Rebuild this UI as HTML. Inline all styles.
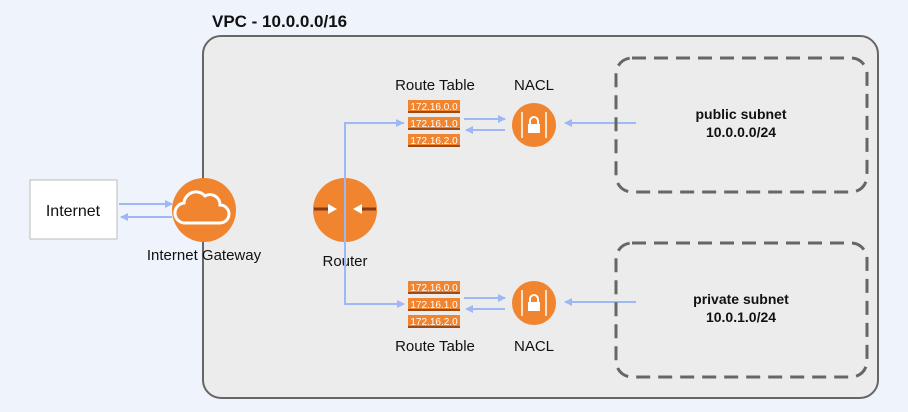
<!DOCTYPE html>
<html><head><style>
body{margin:0;width:908px;height:407px;background:#eef3fc;font-family:"Liberation Sans",Arial,sans-serif;overflow:hidden}
</style></head><body>
<svg width="908" height="407" xmlns="http://www.w3.org/2000/svg" font-family="Liberation Sans, Arial, sans-serif">
<defs>
<marker id="a" markerWidth="8" markerHeight="8" refX="7" refY="4" orient="auto" markerUnits="userSpaceOnUse"><path d="M0,0 L8,4 L0,8 Z" fill="#9db8f5"/></marker>
</defs>
<rect x="203" y="36" width="675" height="362" rx="18" fill="#ececec" stroke="#666" stroke-width="2"/>
<text x="212" y="27" font-size="17" font-weight="bold" fill="#111">VPC - 10.0.0.0/16</text>
<rect x="30" y="180" width="87" height="59" fill="#fff" stroke="#bbb"/>
<text x="73" y="216" font-size="16" text-anchor="middle" fill="#111">Internet</text>
<circle cx="204" cy="210" r="32" fill="#f0842f"/>
<path d="M186,223 h34 a9,9 0 0 0 0,-18 a10,10 0 0 0 -15,-9 a12,12 0 0 0 -21,7 a10,10 0 0 0 2,20 z" fill="none" stroke="#fff" stroke-width="3"/>
<text x="204" y="260" font-size="15" text-anchor="middle" fill="#111">Internet Gateway</text>
<circle cx="345" cy="210" r="32" fill="#f0842f"/>
<g stroke="#8a3a12" stroke-width="3"><line x1="314" y1="209" x2="335" y2="209"/><line x1="356" y1="209" x2="376" y2="209"/></g>
<path d="M328,204 l9,5 l-9,5z M362,204 l-9,5 l9,5z" fill="#fff"/>
<text x="345" y="266" font-size="15" text-anchor="middle" fill="#111">Router</text>
<g stroke="#9db8f5" stroke-width="2" fill="none">
<line x1="119" y1="204" x2="172" y2="204" marker-end="url(#a)"/>
<line x1="172" y1="217" x2="121" y2="217" marker-end="url(#a)"/>
<polyline points="404,123 345,123 345,304 404,304" marker-end="url(#a)"/>
<line x1="345" y1="123" x2="403" y2="123" marker-end="url(#a)"/>
<line x1="464" y1="119" x2="505" y2="119" marker-end="url(#a)"/>
<line x1="505" y1="130" x2="466" y2="130" marker-end="url(#a)"/>
<line x1="464" y1="298" x2="505" y2="298" marker-end="url(#a)"/>
<line x1="505" y1="309" x2="466" y2="309" marker-end="url(#a)"/>
<line x1="636" y1="123" x2="565" y2="123" marker-end="url(#a)"/>
<line x1="636" y1="302" x2="565" y2="302" marker-end="url(#a)"/>
</g>
<g font-size="10" fill="#fff" text-anchor="middle">
<rect x="408" y="100" width="52" height="12" fill="#f0842f"/><rect x="408" y="111" width="52" height="2" fill="#a04a14"/><text x="434" y="110">172.16.0.0</text>
<rect x="408" y="117" width="52" height="12" fill="#f0842f"/><rect x="408" y="128" width="52" height="2" fill="#a04a14"/><text x="434" y="127">172.16.1.0</text>
<rect x="408" y="134" width="52" height="12" fill="#f0842f"/><rect x="408" y="145" width="52" height="2" fill="#a04a14"/><text x="434" y="144">172.16.2.0</text>
<rect x="408" y="281" width="52" height="12" fill="#f0842f"/><rect x="408" y="292" width="52" height="2" fill="#a04a14"/><text x="434" y="291">172.16.0.0</text>
<rect x="408" y="298" width="52" height="12" fill="#f0842f"/><rect x="408" y="309" width="52" height="2" fill="#a04a14"/><text x="434" y="308">172.16.1.0</text>
<rect x="408" y="315" width="52" height="12" fill="#f0842f"/><rect x="408" y="326" width="52" height="2" fill="#a04a14"/><text x="434" y="325">172.16.2.0</text>
</g>
<g font-size="15" fill="#111" text-anchor="middle">
<text x="435" y="90">Route Table</text><text x="534" y="90">NACL</text>
<text x="435" y="351">Route Table</text><text x="534" y="351">NACL</text>
</g>
<g id="n">
<circle cx="534" cy="125" r="22" fill="#f0842f"/>
<g stroke="#fff" stroke-width="1.5"><line x1="522" y1="112" x2="522" y2="138"/><line x1="546" y1="112" x2="546" y2="138"/></g>
<rect x="528" y="124" width="12" height="9" fill="#fff"/><path d="M530,124 v-3 a4,4 0 0 1 8,0 v3" fill="none" stroke="#fff" stroke-width="2"/>
</g>
<use href="#n" transform="translate(0,178)"/>
<rect x="616" y="58" width="251" height="134" rx="16" fill="none" stroke="#666" stroke-width="3" stroke-dasharray="14,8"/>
<rect x="616" y="243" width="251" height="134" rx="16" fill="none" stroke="#666" stroke-width="3" stroke-dasharray="14,8"/>
<g font-size="14" font-weight="bold" fill="#111" text-anchor="middle">
<text x="741" y="119">public subnet</text><text x="741" y="137">10.0.0.0/24</text>
<text x="741" y="304">private subnet</text><text x="741" y="322">10.0.1.0/24</text>
</g>
</svg>
</body></html>
